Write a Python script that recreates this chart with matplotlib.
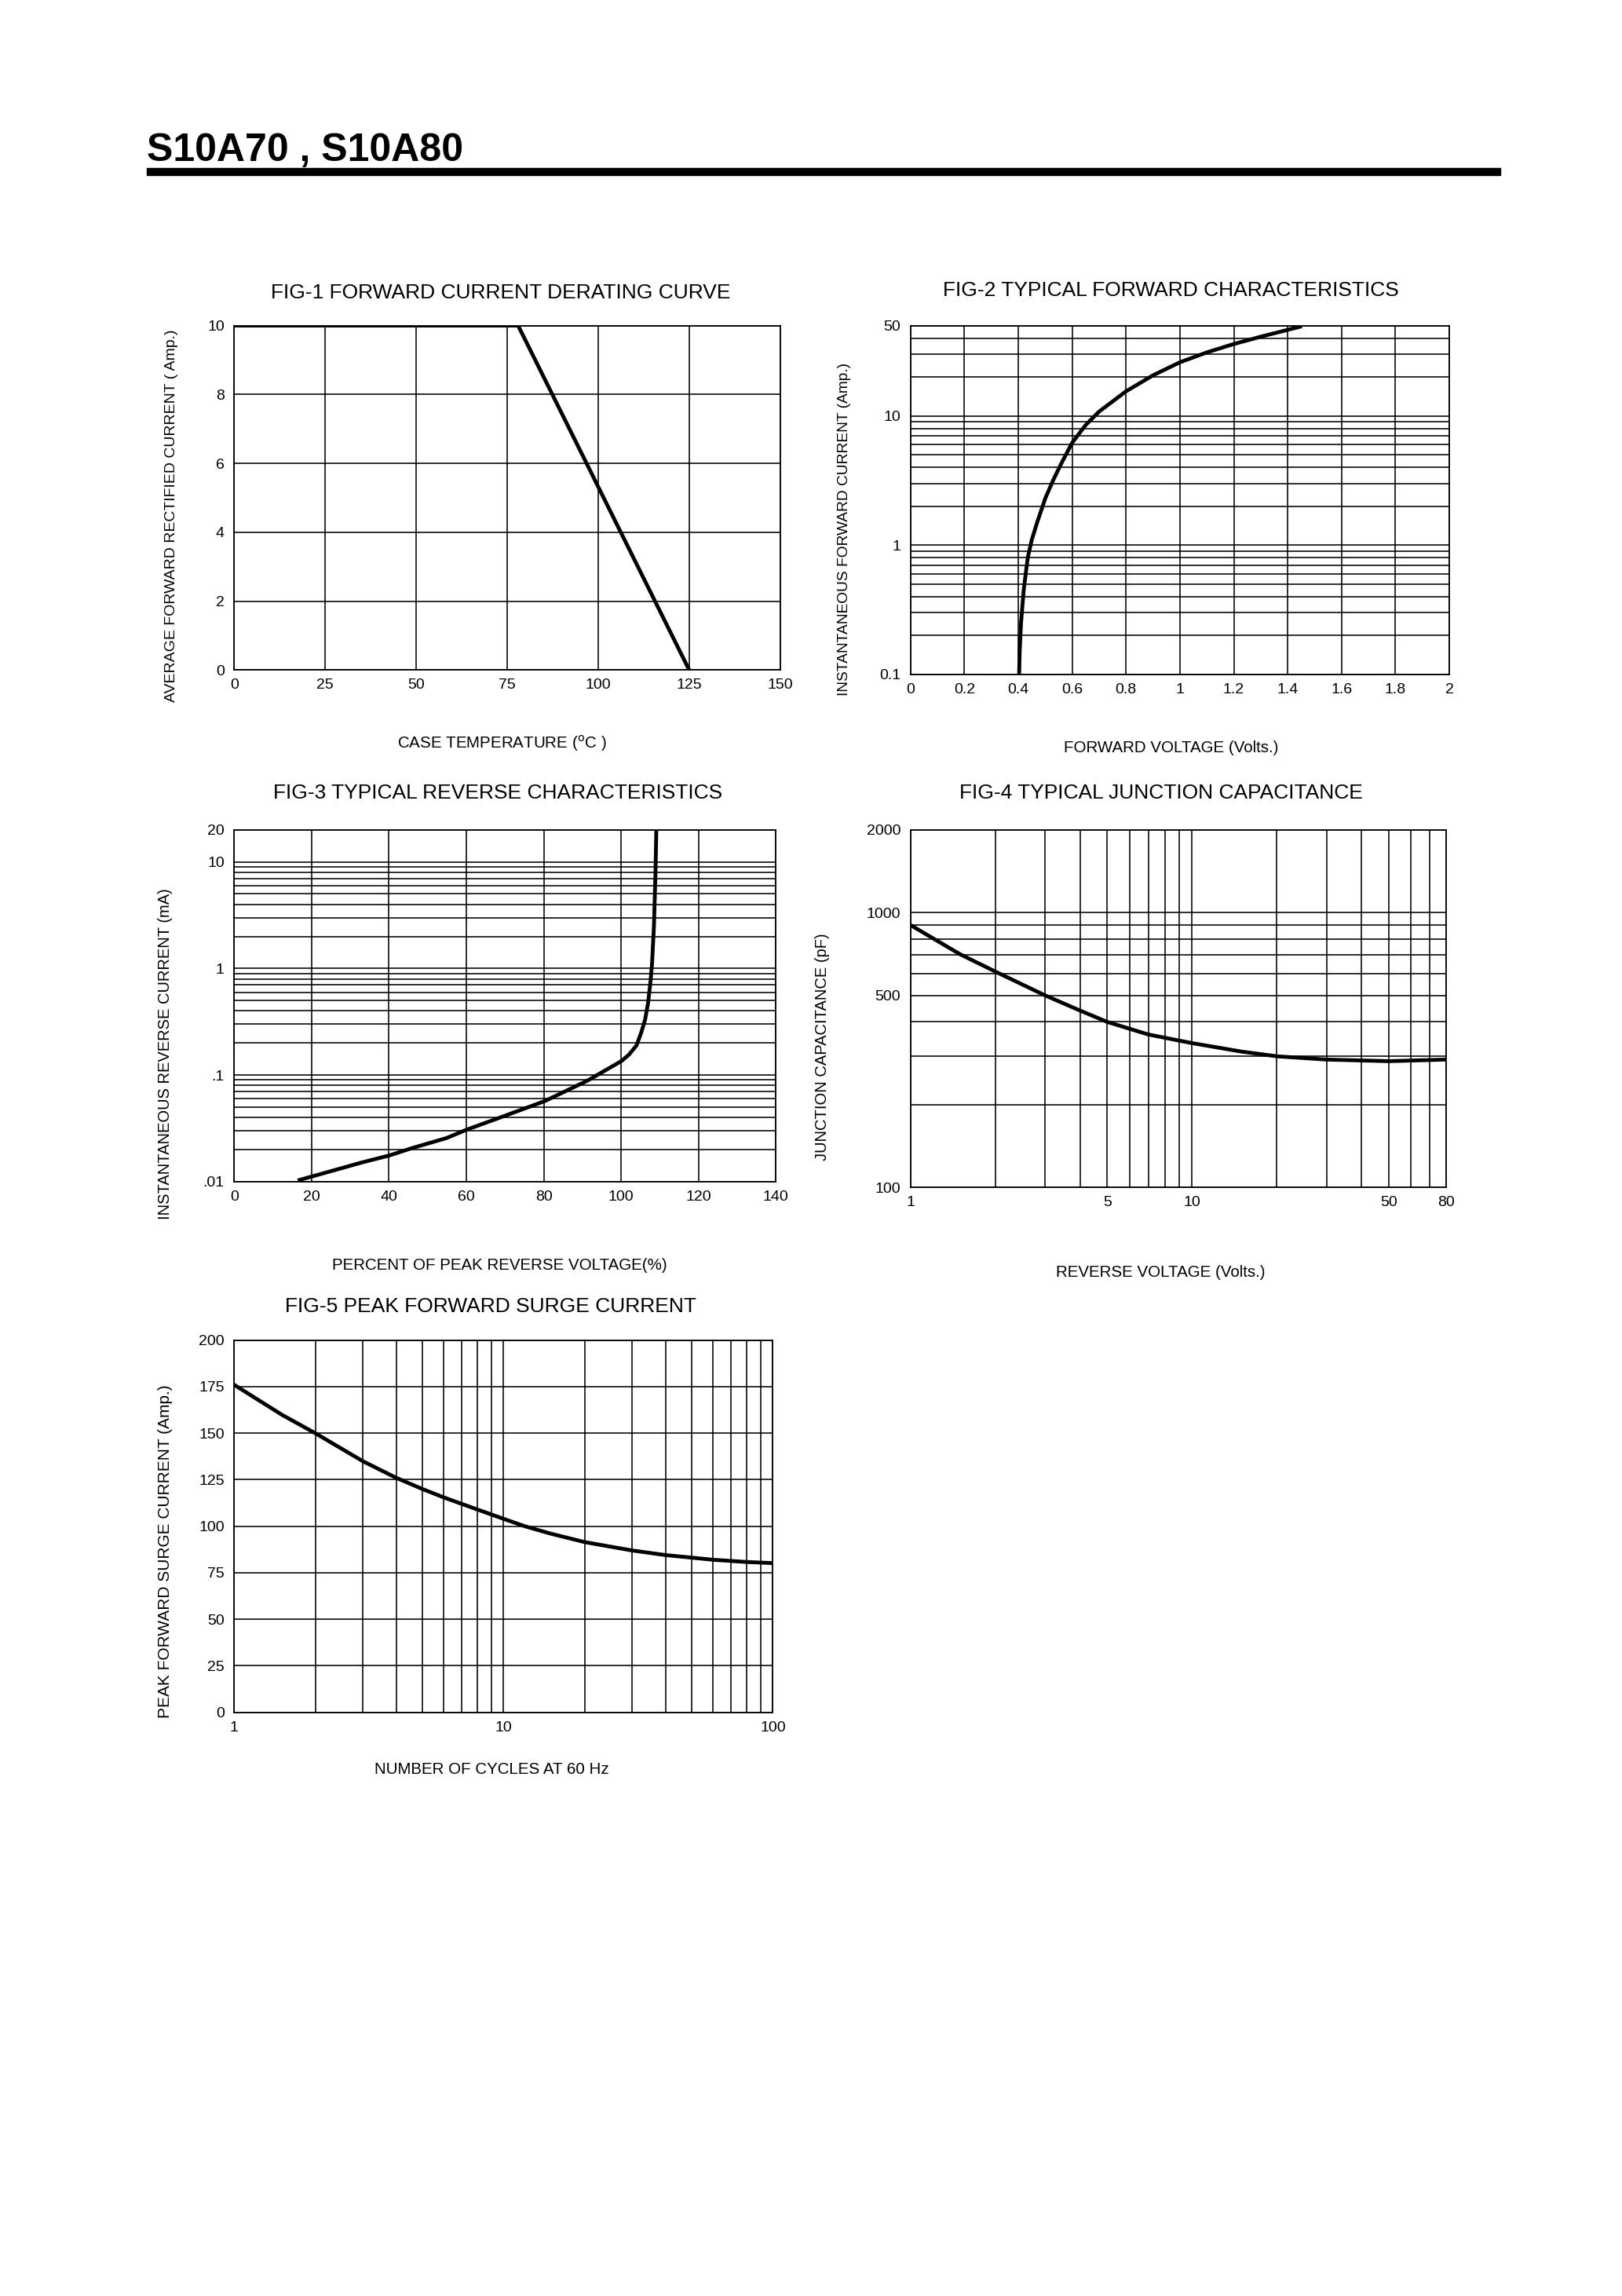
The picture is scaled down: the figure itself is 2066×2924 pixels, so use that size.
import matplotlib
matplotlib.use("Agg")
import matplotlib.pyplot as plt
from matplotlib.patches import Rectangle
from matplotlib.ticker import FixedLocator, FixedFormatter

plt.rcParams['font.family'] = ['Liberation Sans', 'DejaVu Sans']

# ---- data ----
# FIG-1 derating
temp_c = [0, 78, 125]
avg_current = [10, 10, 0]

# FIG-2 forward characteristics
vf = [0.403, 0.405, 0.41, 0.42, 0.435, 0.45, 0.47, 0.5, 0.53, 0.56, 0.6,
      0.65, 0.7, 0.8, 0.9, 1.0, 1.1, 1.2, 1.3, 1.446]
if_amp = [0.1, 0.15, 0.25, 0.45, 0.8, 1.1, 1.5, 2.3, 3.2, 4.3, 6.2,
          8.5, 10.8, 15.5, 20.6, 26, 31, 36, 41, 49]

# FIG-3 reverse characteristics
vr_pct = [16.9, 25.1, 32.8, 40, 46, 54.9, 59.9, 69.2, 80.3, 91.3, 100.1,
          102, 104, 105.2, 106.2, 107, 107.6, 108, 108.5, 108.9, 109.1]
ir_ma = [0.0104, 0.0126, 0.0151, 0.0176, 0.0207, 0.0257, 0.0306, 0.0406,
         0.0571, 0.0887, 0.1355, 0.155, 0.19, 0.25, 0.33, 0.48, 0.75, 1.1,
         2.5, 8, 19]

# FIG-4 junction capacitance
vrev = [1, 1.5, 2, 3, 4, 5, 7, 10, 15, 20, 30, 50, 80]
cap_pf = [900, 705, 610, 500, 440, 400, 360, 335, 312, 300, 292, 288, 292]

# FIG-5 surge current
cycles = [1, 1.5, 2, 3, 4, 5, 6, 7, 8, 10, 12, 15, 20, 30, 40, 60, 80, 100]
surge = [176, 160, 150, 135, 126, 120, 115.5, 112, 109, 104, 100, 96,
         91.5, 87, 84.5, 82, 80.8, 80.2]

TICK = 14
LAB = 14.8
TITLE = 19
GRID = dict(color='black', linewidth=1.15)
CURVE = dict(color='black', linewidth=3.5, solid_joinstyle='round')

fig = plt.figure(figsize=(20.66, 29.24), dpi=100)

# header
fig.text(0.0903, 0.9298, "S10A70 , S10A80", fontsize=36, fontweight='bold',
         ha='left', va='baseline')
fig.patches.append(Rectangle((0.0903, 0.9237), 0.8348, 0.0032, transform=fig.transFigure,
                             color='black', zorder=5))


def setup(ax):
    ax.tick_params(which='both', length=0, labelsize=TICK, pad=9)
    ax.tick_params(axis='x', pad=8)
    for s in ax.spines.values():
        s.set_linewidth(1.3)
        s.set_color('black')
    ax.set_axisbelow(True)


# FIG-1
ax1 = fig.add_axes([0.1444, 0.7082, 0.3366, 0.1500])
ax1.plot(temp_c, avg_current, **CURVE)
ax1.set_xlim(0, 150)
ax1.set_ylim(0, 10)
ax1.set_xticks([0, 25, 50, 75, 100, 125, 150])
ax1.set_yticks([0, 2, 4, 6, 8, 10])
ax1.grid(True, **GRID)
setup(ax1)
fig.text(0.3087, 0.8723, "FIG-1 FORWARD CURRENT DERATING CURVE", fontsize=TITLE, ha='center', va='center')
fig.text(0.3096, 0.6762, "CASE TEMPERATURE ($^{\\mathrm{o}}$C )", fontsize=LAB, ha='center', va='center')
fig.text(0.1056, 0.7755, "AVERAGE FORWARD RECTIFIED CURRENT ( Amp.)", fontsize=14,
         ha='center', va='center', rotation=90)

# FIG-2
ax2 = fig.add_axes([0.5614, 0.7063, 0.3321, 0.1519])
ax2.plot(vf, if_amp, **CURVE)
ax2.set_yscale('log')
ax2.set_xlim(0, 2)
ax2.set_ylim(0.1, 50)
ax2.set_xticks([0, 0.2, 0.4, 0.6, 0.8, 1, 1.2, 1.4, 1.6, 1.8, 2])
ax2.set_xticklabels(["0", "0.2", "0.4", "0.6", "0.8", "1", "1.2", "1.4", "1.6", "1.8", "2"])
ax2.yaxis.set_major_locator(FixedLocator([0.1, 1, 10, 50]))
ax2.yaxis.set_major_formatter(FixedFormatter(["0.1", "1", "10", "50"]))
ax2.yaxis.set_minor_locator(FixedLocator([0.2, 0.3, 0.4, 0.5, 0.6, 0.7, 0.8, 0.9,
                                          2, 3, 4, 5, 6, 7, 8, 9, 20, 30, 40]))
ax2.grid(True, which='both', **GRID)
setup(ax2)
fig.text(0.722, 0.8736, "FIG-2 TYPICAL FORWARD CHARACTERISTICS", fontsize=TITLE, ha='center', va='center')
fig.text(0.722, 0.6743, "FORWARD VOLTAGE (Volts.)", fontsize=LAB, ha='center', va='center')
fig.text(0.5208, 0.7696, "INSTANTANEOUS FORWARD CURRENT (Amp.)", fontsize=13.8,
         ha='center', va='center', rotation=90)

# FIG-3
ax3 = fig.add_axes([0.1444, 0.4853, 0.3339, 0.1533])
ax3.plot(vr_pct, ir_ma, **CURVE)
ax3.set_yscale('log')
ax3.set_xlim(0, 140)
ax3.set_ylim(0.01, 20)
ax3.set_xticks([0, 20, 40, 60, 80, 100, 120, 140])
ax3.yaxis.set_major_locator(FixedLocator([0.01, 0.1, 1, 10, 20]))
ax3.yaxis.set_major_formatter(FixedFormatter([".01", ".1", "1", "10", "20"]))
ax3.yaxis.set_minor_locator(FixedLocator([0.02, 0.03, 0.04, 0.05, 0.06, 0.07, 0.08, 0.09,
                                          0.2, 0.3, 0.4, 0.5, 0.6, 0.7, 0.8, 0.9,
                                          2, 3, 4, 5, 6, 7, 8, 9]))
ax3.grid(True, which='both', **GRID)
setup(ax3)
fig.text(0.3069, 0.6545, "FIG-3 TYPICAL REVERSE CHARACTERISTICS", fontsize=TITLE, ha='center', va='center')
fig.text(0.3078, 0.4489, "PERCENT OF PEAK REVERSE VOLTAGE(%)", fontsize=LAB, ha='center', va='center')
fig.text(0.102, 0.5409, "INSTANTANEOUS REVERSE CURRENT (mA)", fontsize=14.5,
         ha='center', va='center', rotation=90)

# FIG-4
ax4 = fig.add_axes([0.5614, 0.4828, 0.3303, 0.1558])
ax4.plot(vrev, cap_pf, **CURVE)
ax4.set_xscale('log')
ax4.set_yscale('log')
ax4.set_xlim(1, 80)
ax4.set_ylim(100, 2000)
ax4.xaxis.set_major_locator(FixedLocator([1, 5, 10, 50, 80]))
ax4.xaxis.set_major_formatter(FixedFormatter(["1", "5", "10", "50", "80"]))
ax4.xaxis.set_minor_locator(FixedLocator([2, 3, 4, 6, 7, 8, 9, 20, 30, 40, 60, 70]))
ax4.yaxis.set_major_locator(FixedLocator([100, 500, 1000, 2000]))
ax4.yaxis.set_major_formatter(FixedFormatter(["100", "500", "1000", "2000"]))
ax4.yaxis.set_minor_locator(FixedLocator([200, 300, 400, 600, 700, 800, 900]))
ax4.grid(True, which='both', **GRID)
setup(ax4)
fig.text(0.7157, 0.6545, "FIG-4 TYPICAL JUNCTION CAPACITANCE", fontsize=TITLE, ha='center', va='center')
fig.text(0.7157, 0.4457, "REVERSE VOLTAGE (Volts.)", fontsize=LAB, ha='center', va='center')
fig.text(0.5072, 0.5442, "JUNCTION CAPACITANCE (pF)", fontsize=14.5,
         ha='center', va='center', rotation=90)

# FIG-5
ax5 = fig.add_axes([0.1444, 0.2542, 0.3321, 0.1621])
ax5.plot(cycles, surge, **CURVE)
ax5.set_xscale('log')
ax5.set_xlim(1, 100)
ax5.set_ylim(0, 200)
ax5.xaxis.set_major_locator(FixedLocator([1, 10, 100]))
ax5.xaxis.set_major_formatter(FixedFormatter(["1", "10", "100"]))
ax5.xaxis.set_minor_locator(FixedLocator([2, 3, 4, 5, 6, 7, 8, 9, 20, 30, 40, 50, 60, 70, 80, 90]))
ax5.set_yticks([0, 25, 50, 75, 100, 125, 150, 175, 200])
ax5.grid(True, which='both', **GRID)
setup(ax5)
fig.text(0.3023, 0.431, "FIG-5 PEAK FORWARD SURGE CURRENT", fontsize=TITLE, ha='center', va='center')
fig.text(0.3032, 0.2292, "NUMBER OF CYCLES AT 60 Hz", fontsize=LAB, ha='center', va='center')
fig.text(0.102, 0.3244, "PEAK FORWARD SURGE CURRENT (Amp.)", fontsize=15,
         ha='center', va='center', rotation=90)

fig.savefig("out.png", dpi=100, facecolor='white')
